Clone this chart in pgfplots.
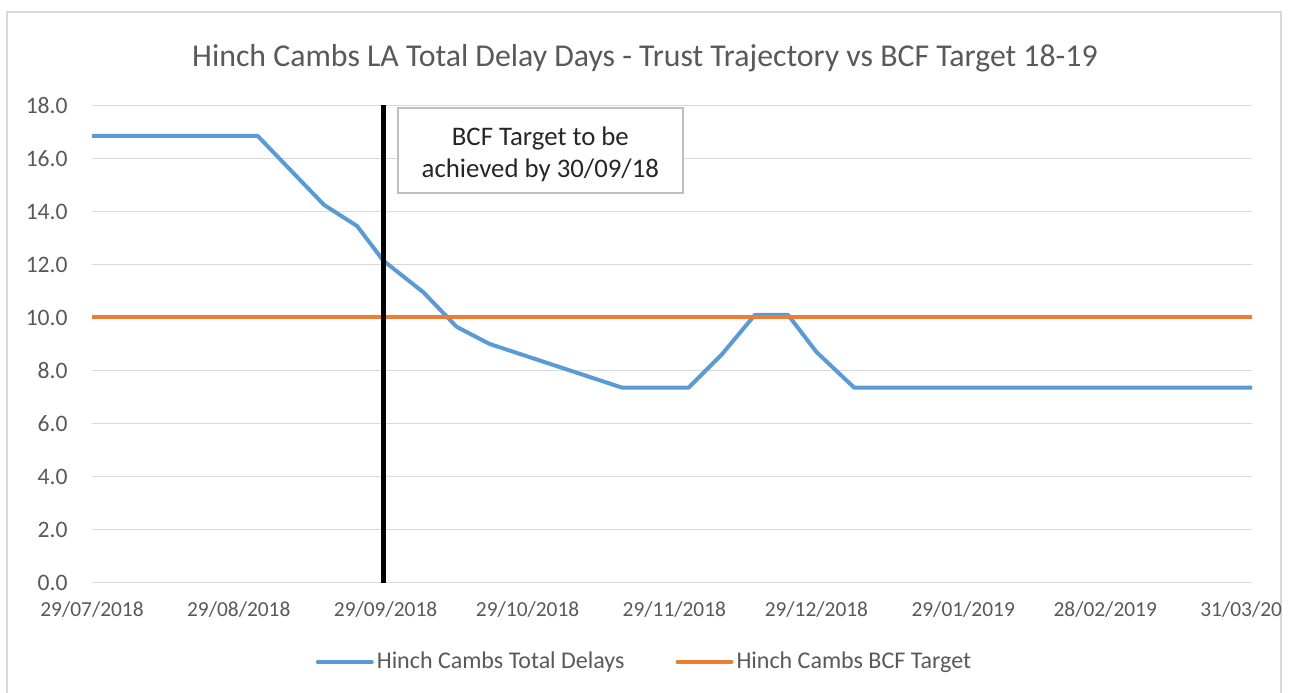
\documentclass[border=0pt]{standalone}
\usepackage{fontspec}
\setmainfont{Carlito}
\usepackage{pgfplots}
\pgfplotsset{compat=1.18}
\definecolor{cblue}{HTML}{5B9BD5}
\definecolor{corange}{HTML}{ED7D31}
\definecolor{tgray}{HTML}{595959}
\definecolor{gridc}{HTML}{D9D9D9}
\definecolor{framec}{HTML}{D9D9D9}
\definecolor{boxc}{HTML}{BFBFBF}
\definecolor{boxtext}{HTML}{262626}
\begin{document}
\begin{tikzpicture}
\useasboundingbox (0,0) rectangle (648.5bp,346.5bp);
\fill[white] (0,0) rectangle (648.5bp,346.5bp);
\draw[color=framec, line width=1bp] (3.5bp,-5bp) rectangle (640.5bp,340.5bp);
\begin{scope}
\clip (3.5bp,-5bp) rectangle (640.5bp,340.5bp);
\node[text=tgray, font=\fontsize{15.9bp}{19bp}\selectfont] at (322.5bp,317.5bp) {Hinch Cambs LA Total Delay Days - Trust Trajectory vs BCF Target 18-19};
\begin{axis}[
  at={(46bp,55.25bp)}, anchor=south west,
  scale only axis, width=580bp, height=238.5bp,
  xmin=0, xmax=245, ymin=0, ymax=18,
  xtick={0,31,62,92,123,153,184,214,245},
  xticklabels={29/07/2018,29/08/2018,29/09/2018,29/10/2018,29/11/2018,29/12/2018,29/01/2019,28/02/2019,31/03/2019},
  ytick={0,2,4,6,8,10,12,14,16,18},
  yticklabels={0.0,2.0,4.0,6.0,8.0,10.0,12.0,14.0,16.0,18.0},
  ymajorgrids, grid style={color=gridc, line width=0.75bp},
  axis line style={draw=none}, major tick length=0pt,
  xticklabel style={font=\fontsize{10.7bp}{12bp}\selectfont, text=tgray, anchor=north, inner sep=0pt, yshift=-9.5bp},
  yticklabel style={font=\fontsize{11.8bp}{13bp}\selectfont, text=tgray, anchor=east, inner sep=0pt, xshift=-12bp},
  legend columns=2,
  legend style={at={(0.4767,-0.1667)}, anchor=center, draw=none, fill=none,
    font=\fontsize{12bp}{13bp}\selectfont, text=tgray,
    nodes={inner sep=1.5bp},
    /tikz/every even column/.append style={column sep=24bp}},
  legend image code/.code={\draw[#1] (0bp,0bp) -- (27bp,0bp);},
]
\addplot[cblue, line width=2bp, line join=round, line cap=round] coordinates {
(0,16.85) (35,16.85) (49,14.25) (56,13.45) (61.5,12.15) (70,10.95) (77,9.65) (84,9.0)
(112,7.35) (126,7.35) (133,8.6) (140,10.1) (147,10.1) (153,8.7) (161,7.35) (245,7.35)};
\addlegendentry{Hinch Cambs Total Delays}
\addplot[corange, line width=2bp, line cap=round] coordinates {(0,10.0) (245,10.0)};
\addlegendentry{Hinch Cambs BCF Target}
\addplot[black, line width=2.5bp, forget plot] coordinates {(61.5,0) (61.5,18)};
\node[draw=boxc, line width=1bp, fill=white, minimum width=142.5bp, minimum height=42.25bp, inner sep=0pt]
  at (axis cs:94.7,16.3) {};
\node[align=center, text=boxtext, font=\fontsize{13.4bp}{16bp}\selectfont, inner sep=0pt, yshift=-2bp]
  at (axis cs:94.7,16.3) {BCF Target to be\\achieved by 30/09/18};
\end{axis}
\end{scope}
\end{tikzpicture}
\end{document}
